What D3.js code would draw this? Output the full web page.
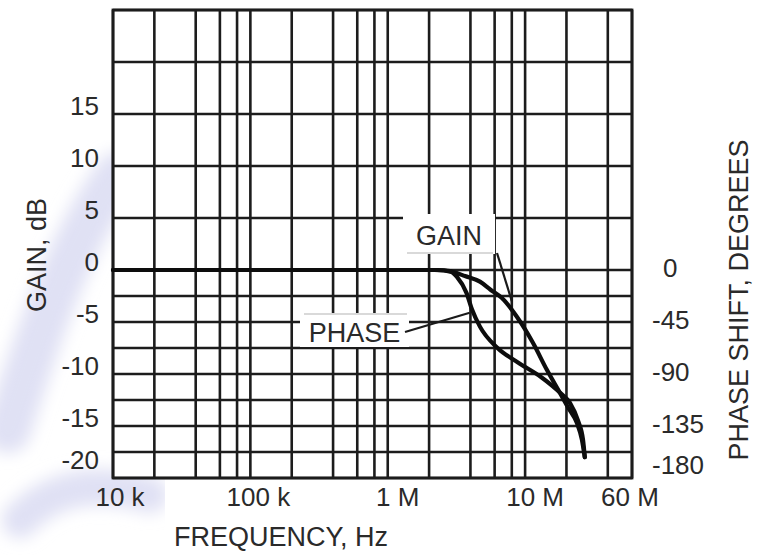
<!DOCTYPE html>
<html>
<head>
<meta charset="utf-8">
<script src="https://cdn.jsdelivr.net/npm/d3@7"></script>
<style>
  html, body { margin: 0; padding: 0; background: #fff; }
  svg { display: block; }
  text { font-family: "Liberation Sans", Arial, Helvetica, sans-serif; fill: #2a2a2a; }
</style>
</head>
<body>
<svg id="chart" width="766" height="556"></svg>
<script>
// Frequency axis: labelled decades and the reduced log grid (1, 2, 4, 6, 8 per decade)
const freqTicks  = [1e4, 1e5, 1e6, 1e7, 6e7];
const freqLabels = ["10 k", "100 k", "1 M", "10 M", "60 M"];
const freqGrid   = [1e4, 2e4, 4e4, 6e4, 8e4, 1e5, 2e5, 4e5, 6e5, 8e5,
                    1e6, 2e6, 4e6, 6e6, 8e6, 1e7, 2e7, 4e7, 6e7];

// Gain axis (dB)
const gainTicks = [15, 10, 5, 0, -5, -10, -15, -20];
const gainGrid  = [25, 20, 15, 10, 5, 0, -2.5, -5, -7.5, -10, -12.5, -15, -17.5, -20];

// Phase axis (degrees)
const phaseTicks = [0, -45, -90, -135, -180];

// Gain response
const gainFreq = [1e4, 1e6, 2.2e6, 3.0e6, 3.65e6, 4.69e6, 5.6e6, 6.78e6, 8.71e6,
                  11.4e6, 14.4e6, 17.9e6, 20.5e6, 23.8e6, 25.9e6, 27.2e6];
const gainDb   = [0, 0, 0, -0.2, -0.58, -1.12, -1.9, -2.7, -4.5,
                  -7.0, -9.6, -11.8, -13.2, -14.7, -16.3, -18.0];

// Phase response
const phaseFreq = [1e4, 1e6, 2.3e6, 2.84e6, 3.19e6, 3.75e6, 4.10e6, 4.69e6, 6.24e6,
                   8.87e6, 13.2e6, 17.9e6, 21.2e6, 24.2e6, 26.4e6, 27.2e6];
const phaseDeg  = [0, 0, 0, -1, -6, -20, -34, -49, -67,
                   -80, -93, -106, -115, -130, -147, -162];

// Callout anchors on the curves
const gainCallout  = { freq: 8.0e6, db: -3.0 };
const phaseCallout = { freq: 3.95e6, deg: -37 };

const svg = d3.select("#chart");
const plot = { left: 113, top: 10, right: 632, bottom: 478 };

const x = d3.scaleLog().domain([1e4, 6e7]).range([plot.left, plot.right]);
const yGain = d3.scaleLinear().domain([-20, 25]).range([plot.bottom, plot.top]);
const yPhase = d3.scaleLinear().domain([-180, 225]).range([plot.bottom, plot.top]);

// faint background swoosh
const defs = svg.append("defs");
defs.append("filter").attr("id", "soft")
  .append("feGaussianBlur").attr("stdDeviation", 8);
const bg = svg.append("g").attr("filter", "url(#soft)").attr("fill", "none")
  .attr("stroke", "#e0e1f4").attr("stroke-linecap", "round");
bg.append("path").attr("d", "M118,175 C70,240 40,330 8,430").attr("stroke-width", 46);
bg.append("path").attr("d", "M20,520 C50,490 90,478 150,495").attr("stroke-width", 36);

// plot background
svg.append("rect")
  .attr("x", plot.left).attr("y", plot.top)
  .attr("width", plot.right - plot.left).attr("height", plot.bottom - plot.top)
  .attr("fill", "#fff");

// grid
const grid = svg.append("g").attr("stroke", "#1c1c1c").attr("stroke-width", 2.6);
grid.selectAll("line.v").data(freqGrid).join("line").attr("class", "v")
  .attr("x1", d => x(d)).attr("x2", d => x(d))
  .attr("y1", plot.top).attr("y2", plot.bottom);
grid.selectAll("line.h").data(gainGrid).join("line").attr("class", "h")
  .attr("x1", plot.left).attr("x2", plot.right)
  .attr("y1", d => yGain(d)).attr("y2", d => yGain(d));
svg.append("rect")
  .attr("x", plot.left).attr("y", plot.top)
  .attr("width", plot.right - plot.left).attr("height", plot.bottom - plot.top)
  .attr("fill", "none").attr("stroke", "#1c1c1c").attr("stroke-width", 2.8);

// curves
const gainData = gainFreq.map((f, i) => [f, gainDb[i]]);
const phaseData = phaseFreq.map((f, i) => [f, phaseDeg[i]]);
const curves = svg.append("g").attr("fill", "none").attr("stroke", "#0d0d0d")
  .attr("stroke-width", 4.2).attr("stroke-linecap", "round").attr("stroke-linejoin", "round");
curves.append("path").attr("d",
  d3.line().x(d => x(d[0])).y(d => yGain(d[1])).curve(d3.curveMonotoneX)(gainData));
curves.append("path").attr("d",
  d3.line().x(d => x(d[0])).y(d => yPhase(d[1])).curve(d3.curveMonotoneX)(phaseData));

// callouts
function callout(label, cx, cy, box, tx, ty) {
  const g = svg.append("g");
  g.append("rect").attr("x", box[0]).attr("y", box[1])
    .attr("width", box[2]).attr("height", box[3]).attr("fill", "#fff");
  g.append("line").attr("x1", box[0] + 4).attr("x2", box[0] + box[2] - 2)
    .attr("y1", box[4]).attr("y2", box[4])
    .attr("stroke", "#cdcdcd").attr("stroke-width", 1.5);
  g.append("line").attr("x1", tx).attr("y1", ty).attr("x2", cx).attr("y2", cy)
    .attr("stroke", "#1a1a1a").attr("stroke-width", 2.2);
  g.append("text").attr("x", (box[0] + box[0] + box[2]) / 2).attr("y", box[5])
    .attr("text-anchor", "middle").attr("font-size", 27).text(label);
}
callout("GAIN", x(gainCallout.freq), yGain(gainCallout.db),
  [403, 214, 92, 40, 253, 245], 497, 253);
callout("PHASE", x(phaseCallout.freq), yPhase(phaseCallout.deg),
  [300, 313, 109, 34, 314, 342], 405, 332);

// bottom tick labels
const freqLabelShift = [7, 8, 10, 10, -2];
svg.append("g").selectAll("text").data(freqTicks).join("text")
  .attr("x", (d, i) => x(d) + freqLabelShift[i]).attr("y", 506)
  .attr("text-anchor", "middle").attr("font-size", 26)
  .text((d, i) => freqLabels[i]);

// left tick labels (gain)
svg.append("g").selectAll("text").data(gainTicks).join("text")
  .attr("x", 99).attr("y", d => Math.min(yGain(d) - 8, 460))
  .attr("dy", "0.36em").attr("text-anchor", "end").attr("font-size", 26)
  .text(d => d);

// right tick labels (phase)
svg.append("g").selectAll("text").data(phaseTicks).join("text")
  .attr("x", d => d === 0 ? 663 : 652).attr("y", d => Math.min(yPhase(d) - 2, 465))
  .attr("dy", "0.36em").attr("text-anchor", "start").attr("font-size", 26)
  .text(d => d);

// axis titles
svg.append("text").attr("x", 281).attr("y", 546)
  .attr("text-anchor", "middle").attr("font-size", 27).text("FREQUENCY, Hz");
svg.append("text").attr("transform", "translate(46,255) rotate(-90)")
  .attr("text-anchor", "middle").attr("font-size", 27).text("GAIN, dB");
svg.append("text").attr("transform", "translate(748,300) rotate(-90)")
  .attr("text-anchor", "middle").attr("font-size", 27).text("PHASE SHIFT, DEGREES");
</script>
</body>
</html>
